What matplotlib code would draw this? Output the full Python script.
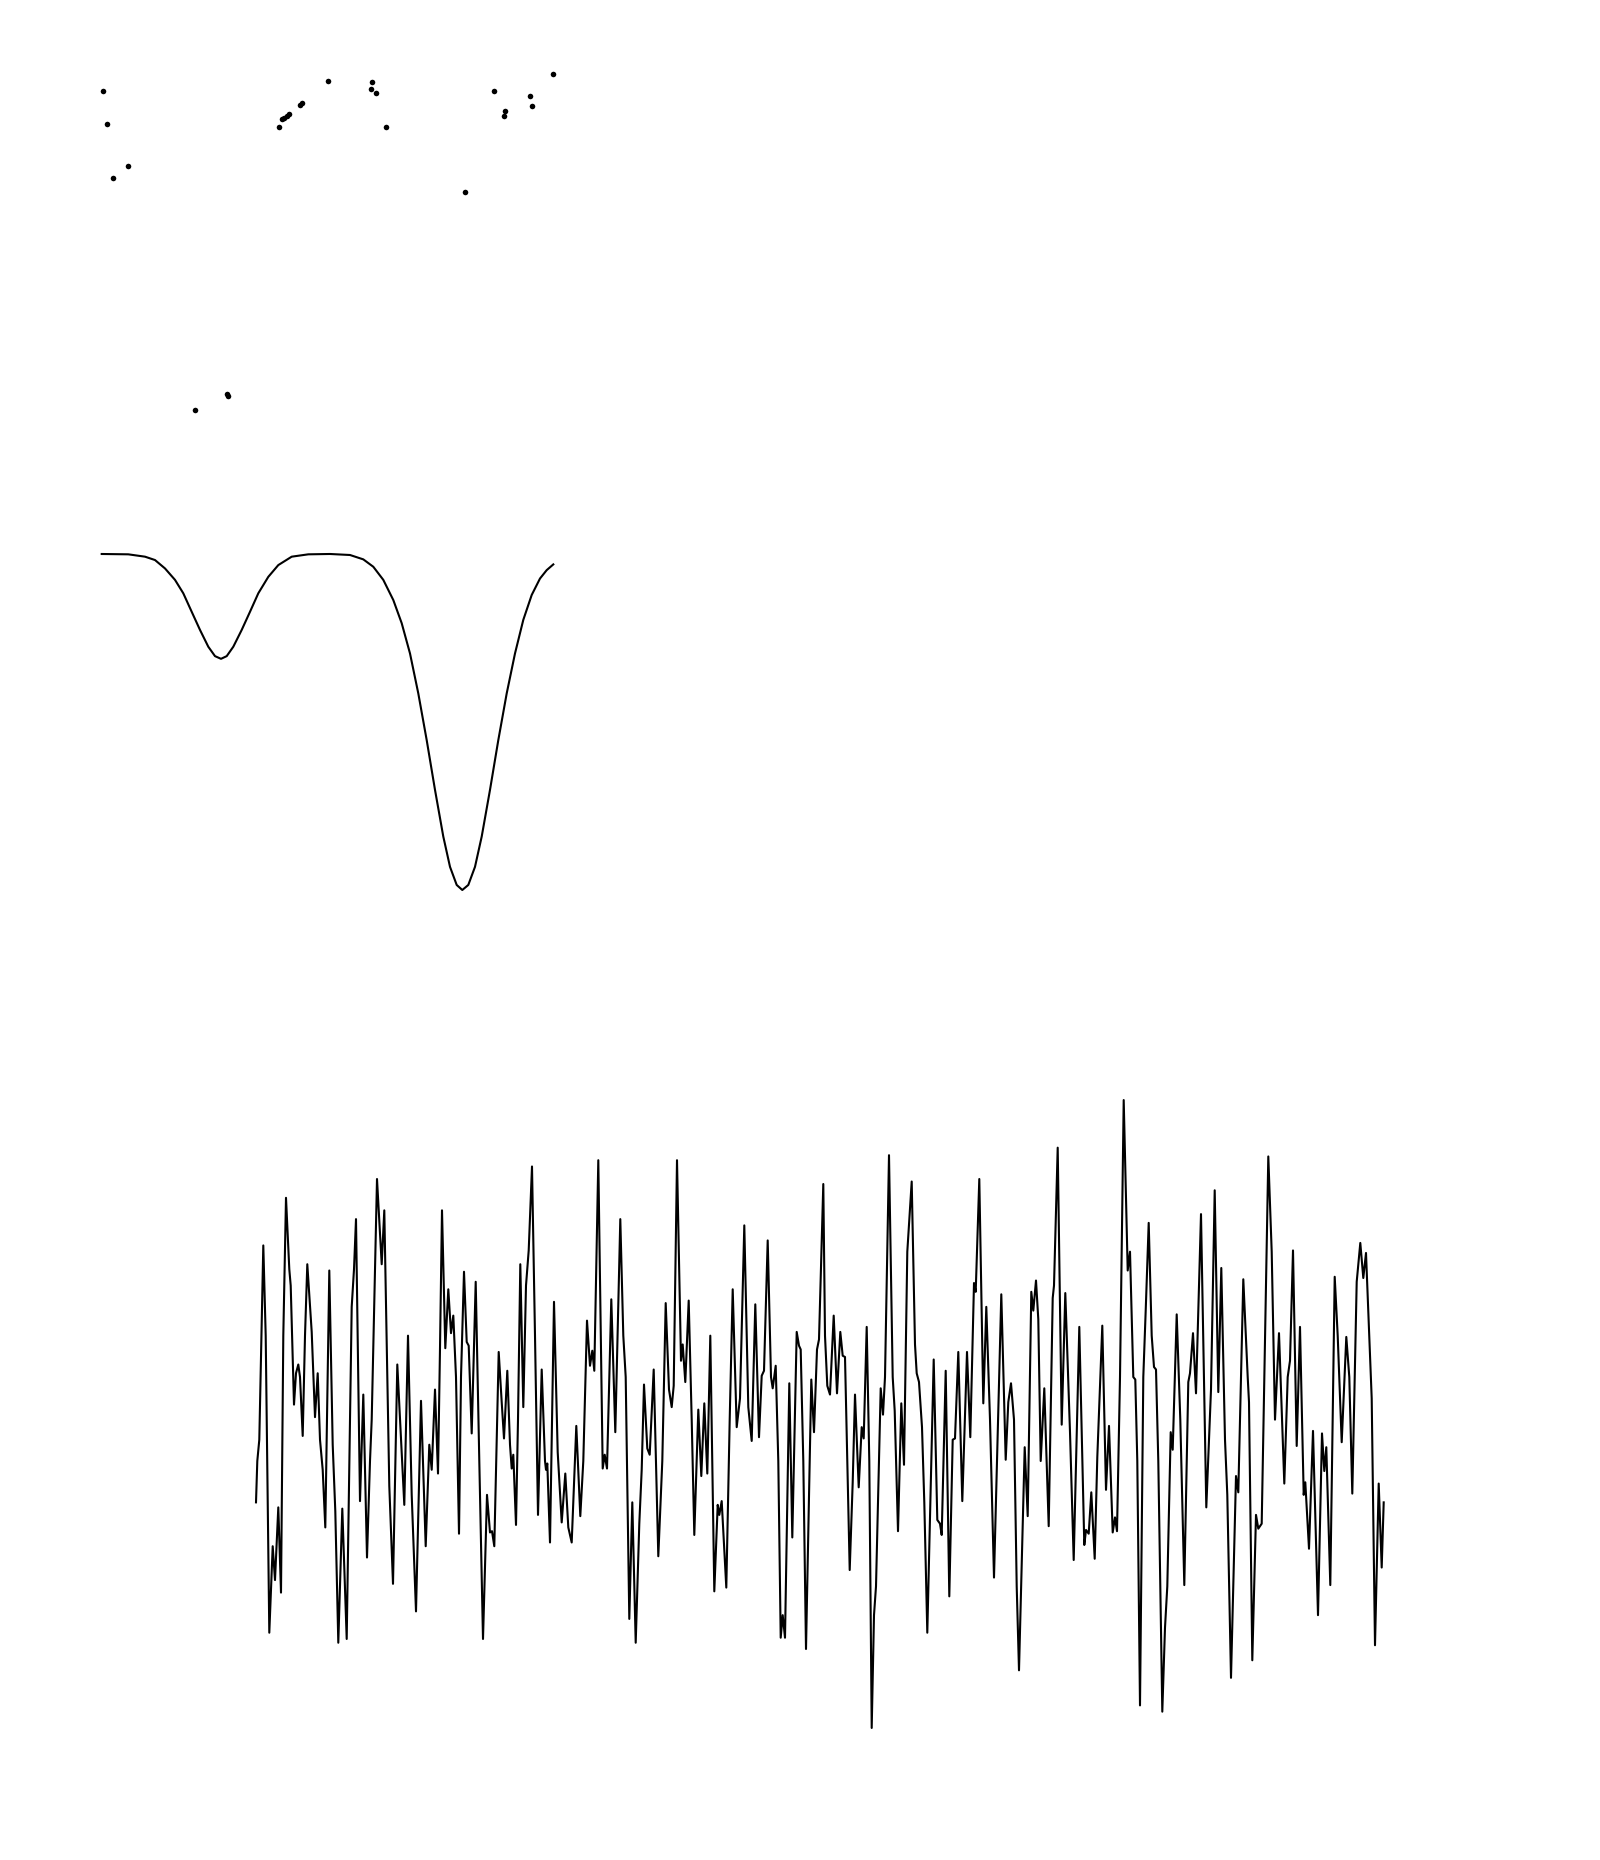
import matplotlib
matplotlib.use("Agg")
import matplotlib.pyplot as plt

# scatter panel (top)
scatter_x = [1.3, 5.3, 26.3, 11.3, 177.3, 180.3, 182.3, 184.7, 187.3, 198.3, 199.7,
             226.3, 270.3, 269.3, 274.3, 284.3, 363.3, 392.3, 403.3, 402.3, 428.3,
             430.3, 451.3, 93.3, 125.0, 126.3]
scatter_y = [3.39, 3.06, 2.64, 2.52, 3.03, 3.11, 3.12, 3.14, 3.16, 3.25, 3.27,
             3.49, 3.48, 3.41, 3.37, 3.03, 2.38, 3.39, 3.19, 3.14, 3.34,
             3.24, 3.56, 0.20, 0.36, 0.34]

# absorption-like curve (middle)
curve_x = [-0.3, 26.3, 43, 53, 63, 73, 81.3, 89.7, 98, 106.3, 113, 119, 124.7,
           131.3, 139.7, 148, 156.3, 166.3, 176.3, 189.7, 206.3, 228, 248, 261.3,
           271.3, 281.3, 291.3, 299.7, 308, 316.3, 324.7, 333, 341.3, 348, 354.7,
           360.3, 366.3, 373, 379.7, 388, 396.3, 404.7, 413, 421.3, 429.7, 438,
           444.7, 451.3]
curve_y = [1.000, 0.999, 0.992, 0.982, 0.957, 0.923, 0.883, 0.828, 0.774, 0.724,
           0.696, 0.688, 0.696, 0.724, 0.774, 0.828, 0.883, 0.932, 0.967, 0.992,
           0.999, 1.000, 0.997, 0.984, 0.962, 0.923, 0.863, 0.794, 0.704, 0.585,
           0.446, 0.298, 0.159, 0.069, 0.015, 0.000, 0.015, 0.069, 0.159, 0.298,
           0.446, 0.585, 0.704, 0.804, 0.878, 0.927, 0.952, 0.969]

# noisy signal (bottom)
noise_t = [0, 1.3, 3.3, 7.3, 9.7, 13.3, 16.7, 19, 22.3, 25, 27.3, 30, 33.3, 34.7, 38,
           40, 42.3, 44, 46.7, 49, 51.3, 55.7, 59, 61.7, 64, 66.7, 69.3, 73.3, 76.7,
           79.3, 82.3, 86.3, 90.7, 94, 95.7, 98, 100, 104, 107.3, 111, 114, 115.7,
           121, 125.7, 128.3, 131.3, 133.3, 137, 141.3, 144.7, 148.3, 152, 155.7, 160,
           165, 169.7, 173.3, 175.7, 179, 182, 184, 186, 189.3, 192.3, 195, 197.3,
           200, 203, 205, 208, 210.7, 212.7, 215.7, 219.7, 223.3, 227, 231, 234, 236,
           238.3, 240.7, 242.7, 245.7, 248, 251.3, 254, 255.7, 257.3, 260, 262, 264.3,
           267.3, 270, 272.7, 276, 279, 282,
           285.7, 289, 290, 291.3, 294, 298, 301.7, 305.7, 309.3, 312.3, 315.7, 320.3,
           324.3, 327.3, 331, 334, 336.3, 338.3, 342.3, 346.7, 348.7, 351, 355.3,
           359.3, 364.3, 367.3, 369.7, 373.3, 376.3, 379.7, 383.3, 385.7, 388, 391.3,
           393.7, 397.7, 402.3, 406.3, 409.7, 413, 415.7, 417.7, 421, 425, 426.7,
           429.3, 432.7, 435.7, 438.3, 442.3, 445.3, 448.3, 451.3, 454.3, 458.3,
           461.7, 463.3, 465.7, 470.3, 473.7, 476.7, 480.7, 484, 488.3, 492.3, 495.7,
           499.3, 503, 505.7, 508, 511.7, 515, 516.7, 519.7, 522.3, 524.7, 526.7, 529,
           533.3, 536.3, 540.7, 543, 544.7, 547.3, 550, 555.3, 558, 561, 563, 567.3,
           569, 571.3, 574, 577.7, 581, 584.3, 586.7, 589, 591.3, 593.7, 596.7, 599,
           602.7, 605.7, 607.7, 610.7, 613.3, 615.7, 618, 620, 622, 624.7, 627, 629,
           633, 636.7, 638.7, 642, 645.3, 648, 651.3, 655.7, 659, 660.7, 663, 666,
           668.3, 671.3, 677.7, 681.3, 684, 685.7, 689.7, 693.3, 696.7, 699, 702.3,
           706.3, 711, 714.3, 718, 719.7, 723.3, 727.3, 730.3, 734, 738, 745.3, 749.7,
           752.3, 755, 758, 760.7, 763, 768.7, 771.7, 775.3, 777.3, 780, 782.3, 784.7,
           788.3, 792.7, 796.7, 798, 801.7, 805.7, 809.3, 814, 817.7, 823.3, 828.3,
           830, 832.7, 835.3, 838.7, 841.3, 846.3, 850,
           853, 856.7, 859, 861, 864, 867.7, 871.7, 874, 877.3, 879.3, 881.3, 884,
           887.3, 889.7, 892.7, 895.7, 898, 900, 902.3, 906.3, 909, 911.3, 914.7,
           916.7, 920.7, 924.3, 928.3, 932.3, 934, 937, 940, 945, 950.3, 955, 958.7,
           962.3, 965.3, 969, 971.3, 975, 980, 982.3, 987.3, 991.7, 993, 996.3, 1000,
           1002.3, 1005.7, 1008.3, 1012.3, 1015.7, 1019, 1023, 1028.3, 1031.7, 1034,
           1037, 1040.7, 1044, 1047.7, 1049.3, 1053, 1057, 1062, 1066, 1068.3, 1070.3,
           1074.3, 1078.7, 1081.7, 1085.7, 1090.3, 1093.3, 1096.3, 1100.7, 1104.3,
           1107.3, 1110, 1114, 1115.7, 1119, 1122.7, 1125.7, 1127.7]
noise_v = [-5, 28, 45, 200, 128, -109, -40, -67, -9, -77, 128, 238, 181, 168, 73,
           98, 105, 95, 48, 128, 185, 131, 63, 98, 45, 21, -25, 180, 41,
           -12, -117, -10, -114, 61, 151, 181, 221, -4, 81, -49, 28, 61,
           253, 185, 228, 95, 8, -70, 105, 51, -7, 128, 1, -92,
           76, -40, 41, 21, 85, 18, 118, 228, 118, 165, 130, 144,
           95, -30, 95, 179, 123, 120, 50, 171, 28, -114, 1, -29, -28,
           -40, 45, 115, 75, 46, 100, 41, 22, 33, -23, 61, 185,
           71, 168, 196, 263, 128, -15,
           101, 28, 21, 26, -37, 155, 35, -21, 18, -25, -37, 56,
           -16, 28, 140, 104, 116, 100, 268, 22, 33, 22, 157,
           51, 221, 128, 95, -98, -5, -117, -22, 21, 89, 38,
           33, 101, -48, 28, 154, 85, 71, 88, 268, 108, 121,
           91, 156, 61, -31, 69, 16, 74, 18, 128, -76,
           -7, -15, -4, -73, 61, 165, 55, 78, 216, 71, 44,
           153, 47, 96, 100, 204, 95, 86, 104, 28, -113, -95, -113,
           90, -33, 131, 120, 117, 28, -122, 93, 51, 117, 125, 249,
           128, 88, 81, 144, 82, 131, 112, 111, 28, -59, 11, 81,
           7, 55, 46, 135, 28, -185, -95, -72, -5, 86, 65, 95,
           272, 95, 68, -28, 74, 25, 195, 251, 121, 98, 91, 55,
           -5, -109, 109, -19, -22, -31, 100, -80, 45, 46, 115,
           -4, 115, 47, 170, 163, 253, 74, 151, 61, -65, 161, 29,
           75, 90, 61, -72, -139, 39, -16, 163, 148, 172, 141, 28,
           86, -24, 158, 168, 278, 57, 162, 51, -51, 135, -39,
           -27, -30, 3, -50, 31, 136, 5,
           56, -29, -17, -28, 95, 316, 180, 195, 95, 93, 28, -167,
           95, 148, 218, 128, 103, 101, 28, -172, -105, -72, 51,
           37, 145, 61, -71, 91, 98, 130, 82, 225, -9, 85, 244,
           83, 182, 45, 1, -145, 16, 3, 173, 95, 75, -131, -15,
           -26, -22, 95, 271, 195, 61, 130, 10, 95, 108,
           196, 40, 135, 1, 11, -42, 52, -95, 50, 20, 39,
           -71, 175, 128, 43, 127, 95, 2, 171, 202,
           174, 194, 111, 78, -119, 10, -57, -5]

W, H = 1600, 1860


def px_axes(fig, x0, y0, x1, y1):
    # axes box given in pixel corners (top-left origin)
    return fig.add_axes([x0 / W, 1 - y1 / H, (x1 - x0) / W, (y1 - y0) / H])


fig = plt.figure(figsize=(16, 18.6), dpi=100)

ax1 = px_axes(fig, 80, 50, 575, 430)
ax1.scatter(scatter_x, scatter_y, s=16, c='black', linewidths=0)
ax1.set_xlim(-22, 473)
ax1.set_ylim(0, 3.8)
ax1.axis('off')

ax2 = px_axes(fig, 80, 530, 575, 915)
ax2.plot(curve_x, curve_y, color='black', lw=1.5, solid_joinstyle='round')
ax2.set_xlim(-22, 473)
ax2.set_ylim(-0.0744, 1.0714)
ax2.axis('off')

ax3 = px_axes(fig, 240, 1080, 1400, 1745)
ax3.plot(noise_t, noise_v, color='black', lw=1.5, solid_joinstyle='round')
ax3.set_xlim(-16, 1144)
ax3.set_ylim(-198.6, 332.0)
ax3.axis('off')

fig.savefig('out.png', dpi=100)
